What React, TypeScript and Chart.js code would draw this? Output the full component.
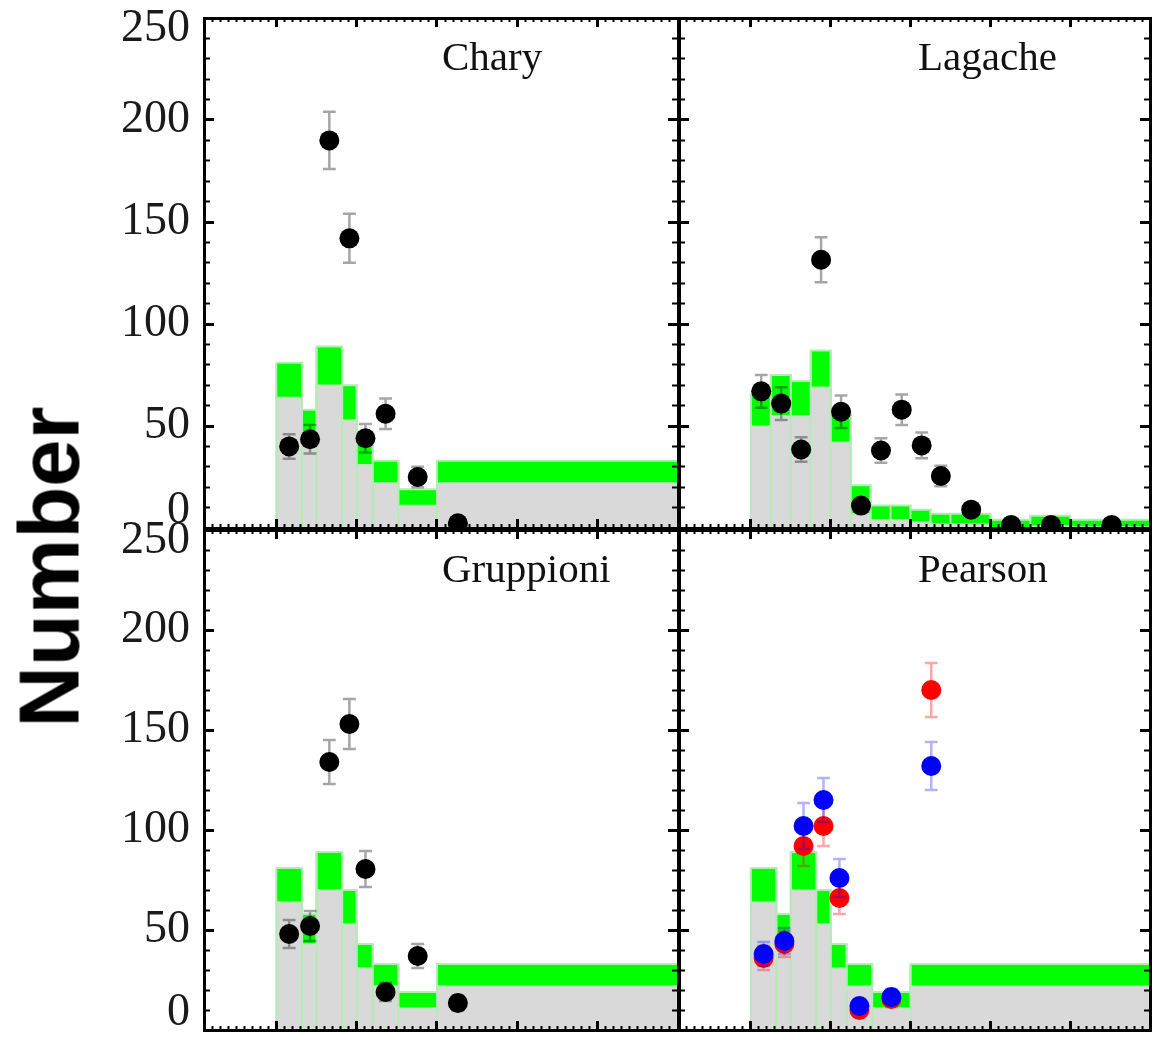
import React, { useEffect, useRef } from 'react';
import { Chart, registerables } from 'chart.js';

Chart.register(...registerables);

const W = 1160;
const H = 1040;

// axis ranges
const X_MIN = 0.05;
const X_MAX = 3.0;
const Y_MIN = 0;
const Y_MAX = 250;
const Y_MAJOR = 50;
const Y_MINOR = 10;
const X_MAJOR = 0.5;
const X_MINOR = 0.05;

// model band shared by Chary / Gruppioni / Pearson panels
const modelEdges = [0.5, 0.66, 0.75, 0.91, 1.0, 1.1, 1.26, 1.5, 3.0];
const modelUpper = [81, 58, 89, 70, 43, 33, 19, 33];
const modelLower = [64, 43, 70, 53, 31, 22, 11, 22];

// model band of the Lagache panel
const lagacheEdges = [0.5, 0.625, 0.75, 0.875, 1.0, 1.125, 1.25, 1.375, 1.5, 1.625, 1.75, 2.0, 2.25, 2.5, 3.0];
const lagacheUpper = [66, 75, 72, 87, 56, 21, 11, 11, 9, 7, 7, 4, 6, 4];
const lagacheLower = [50, 55, 55, 69, 42, 7, 4, 4, 3, 2, 2, 0, 1, 0.5];

// observed points
const obsX = [0.58, 0.71, 0.83, 0.955, 1.055, 1.18, 1.38, 1.63];
const charyN = [40, 43.5, 190, 142, 44, 56, 25, 2.3];
const charyErr = [6, 7, 14, 12, 7, 7.5, 5, 1.5];
const gruppioniN = [48, 52, 134, 153, 80.5, 19, 37, 13.5];
const gruppioniErr = [7, 7.5, 11, 12.5, 9, 4.5, 6, 3.7];
const pearsonRedN = [36, 43, 92, 102, 66, 10, 15.5, 170];
const pearsonRedErr = [6, 6.5, 10, 10, 8, 3, 4, 13.5];
const pearsonBlueN = [38, 44.5, 102, 115, 76, 12, 16.5, 132];
const pearsonBlueErr = [6, 6.5, 11.5, 11, 9.5, 3.5, 4, 12];

const lagacheX = [0.565, 0.69, 0.815, 0.94, 1.065, 1.19, 1.315, 1.445, 1.57, 1.69, 1.88, 2.13, 2.38, 2.76];
const lagacheN = [67, 61, 38.5, 131.5, 57, 11, 38, 58, 40.5, 25.5, 9, 1.5, 1.5, 1.5];
const lagacheErr = [8, 8, 6, 11, 8, 3.3, 6, 7.5, 6.3, 5, 3, 1.2, 1.2, 1.2];

const panelTitles = ['Chary', 'Lagache', 'Gruppioni', 'Pearson'];

// styles
const GREEN = '#00ff00';
const GREY = '#d9d9d9';
const EDGE_GREEN = '#b3ecb3';
const CAP = 0.04;
const SERIF = '"Liberation Serif", "Times New Roman", serif';

type Series = { xs: number[]; ys: number[]; errs: number[]; color: string; errColor: string };
type PanelSpec = {
  left: number; right: number; top: number; bottom: number; labels: boolean;
  edges: number[]; upper: number[]; lower: number[]; series: Series[];
};

const panels: PanelSpec[] = [
  { left: 204, right: 678, top: 18, bottom: 528, labels: true, edges: modelEdges, upper: modelUpper, lower: modelLower,
    series: [{ xs: obsX, ys: charyN, errs: charyErr, color: '#000000', errColor: 'rgba(0,0,0,0.35)' }] },
  { left: 679, right: 1152, top: 18, bottom: 528, labels: false, edges: lagacheEdges, upper: lagacheUpper, lower: lagacheLower,
    series: [{ xs: lagacheX, ys: lagacheN, errs: lagacheErr, color: '#000000', errColor: 'rgba(0,0,0,0.35)' }] },
  { left: 204, right: 678, top: 530, bottom: 1039, labels: true, edges: modelEdges, upper: modelUpper, lower: modelLower,
    series: [{ xs: obsX, ys: gruppioniN, errs: gruppioniErr, color: '#000000', errColor: 'rgba(0,0,0,0.35)' }] },
  { left: 679, right: 1152, top: 530, bottom: 1039, labels: false, edges: modelEdges, upper: modelUpper, lower: modelLower,
    series: [
      { xs: obsX, ys: pearsonRedN, errs: pearsonRedErr, color: '#ff0000', errColor: 'rgba(255,0,0,0.35)' },
      { xs: obsX, ys: pearsonBlueN, errs: pearsonBlueErr, color: '#0000ff', errColor: 'rgba(0,0,255,0.3)' },
    ] },
];

const titlePos = [
  { left: 442, top: 36 },
  { left: 918, top: 36 },
  { left: 442, top: 548 },
  { left: 918, top: 548 },
];

function zeroPad(s: any) {
  s.paddingLeft = 0; s.paddingRight = 0; s.paddingTop = 0; s.paddingBottom = 0;
}

function tickAxis(position: string, step: number, len: number, width: number, border: boolean) {
  const horizontal = position === 'top' || position === 'bottom';
  return {
    type: 'linear',
    position,
    display: true,
    min: horizontal ? X_MIN : Y_MIN,
    max: horizontal ? X_MAX : Y_MAX,
    weight: 0,
    ticks: { display: false, stepSize: step, autoSkip: false },
    grid: { drawOnChartArea: false, drawTicks: true, tickLength: -len, tickWidth: width, tickColor: '#000', z: 1 },
    border: { display: border, color: '#000', width: 3, z: 1 },
    afterFit: (s: any) => {
      if (horizontal) s.height = 0; else s.width = 0;
      zeroPad(s);
    },
  };
}

function buildConfig(p: PanelSpec): any {
  const hist = (vals: number[]) => p.edges.map((e, i) => ({ x: e, y: vals[Math.min(i, vals.length - 1)] }));
  const datasets: any[] = [];
  datasets.push({ data: hist(p.upper), stepped: 'before', fill: 'origin', backgroundColor: GREEN,
    borderColor: EDGE_GREEN, borderWidth: 2, pointRadius: 0, order: 10 });
  datasets.push({ data: hist(p.lower), stepped: 'before', fill: 'origin', backgroundColor: GREY,
    borderColor: EDGE_GREEN, borderWidth: 1.5, pointRadius: 0, order: 9 });
  const edgePts: any[] = [];
  p.edges.forEach((e, i) => {
    const h = Math.max(i > 0 ? p.upper[i - 1] : 0, i < p.upper.length ? p.upper[i] : 0);
    edgePts.push({ x: e, y: 0 }, { x: e, y: h }, { x: e, y: null });
  });
  datasets.push({ data: edgePts, borderColor: EDGE_GREEN, borderWidth: 2, pointRadius: 0, fill: false, spanGaps: false, order: 8 });
  p.series.forEach((s, k) => {
    const eb: any[] = [];
    s.xs.forEach((x, i) => {
      const y = s.ys[i];
      const e = s.errs[i];
      eb.push(
        { x, y: y - e }, { x, y: y + e }, { x, y: null },
        { x: x - CAP, y: y + e }, { x: x + CAP, y: y + e }, { x, y: null },
        { x: x - CAP, y: y - e }, { x: x + CAP, y: y - e }, { x, y: null },
      );
    });
    datasets.push({ data: eb, borderColor: s.errColor, borderWidth: 2.5, pointRadius: 0, fill: false,
      spanGaps: false, order: 7 - k * 2, clip: 0 });
    datasets.push({ data: s.xs.map((x, i) => ({ x, y: s.ys[i] })), showLine: false, pointRadius: 10,
      pointBackgroundColor: s.color, pointBorderColor: s.color, pointBorderWidth: 0, order: 6 - k * 2, clip: 0 });
  });

  const yMaj: any = tickAxis('left', Y_MAJOR, 10, 3, true);
  yMaj.weight = 1;
  yMaj.ticks = {
    display: p.labels,
    stepSize: Y_MAJOR,
    autoSkip: false,
    padding: 24,
    color: '#1a1a1a',
    callback: (v: number) => (v === Y_MIN ? [String(v), ''] : v === Y_MAX ? ['', String(v)] : String(v)),
    font: (ctx: any) => {
      const v = ctx && ctx.tick ? ctx.tick.value : undefined;
      return { family: SERIF, size: 46, lineHeight: v === Y_MIN ? '34px' : v === Y_MAX ? '22px' : 1.2 };
    },
  };
  yMaj.afterFit = (s: any) => { s.width = p.labels ? p.left : 0; zeroPad(s); };

  return {
    type: 'line',
    data: { datasets },
    options: {
      responsive: false,
      animation: false,
      devicePixelRatio: 1,
      events: [],
      layout: { padding: { left: p.labels ? 0 : p.left, right: W - p.right, top: p.top, bottom: H - p.bottom } },
      plugins: { legend: { display: false }, tooltip: { enabled: false }, title: { display: false } },
      elements: { line: { tension: 0 } },
      scales: {
        x: tickAxis('bottom', X_MINOR, 4, 2, false),
        xMaj: tickAxis('bottom', X_MAJOR, 9, 3, true),
        xTop: tickAxis('top', X_MINOR, 4, 2, false),
        xTopMaj: tickAxis('top', X_MAJOR, 9, 3, true),
        y: tickAxis('left', Y_MINOR, 6, 2, false),
        yMaj,
        yRight: tickAxis('right', Y_MINOR, 6, 2, false),
        yRightMaj: tickAxis('right', Y_MAJOR, 10, 3, true),
      },
    },
  };
}

function Panel({ spec }: { spec: PanelSpec }) {
  const ref = useRef<HTMLCanvasElement>(null);
  useEffect(() => {
    if (!ref.current) return;
    const chart = new Chart(ref.current, buildConfig(spec));
    return () => chart.destroy();
  }, [spec]);
  return (
    <canvas ref={ref} width={W} height={H}
      style={{ position: 'absolute', left: 0, top: 0, width: W, height: H }} />
  );
}

export default function App() {
  return (
    <div style={{ position: 'absolute', left: 0, top: 0, width: W, height: H, background: '#fff', overflow: 'hidden' }}>
      {panels.map((p, i) => <Panel key={i} spec={p} />)}
      {panelTitles.map((t, i) => (
        <div key={t} style={{ position: 'absolute', left: titlePos[i].left, top: titlePos[i].top, fontFamily: SERIF,
          fontSize: 41, lineHeight: '41px', color: '#111', whiteSpace: 'nowrap' }}>{t}</div>
      ))}
      <div style={{ position: 'absolute', left: 48.5, top: 567, transform: 'translate(-50%, -50%) rotate(-90deg)',
        fontFamily: '"Liberation Sans", Arial, sans-serif', fontWeight: 'bold', fontSize: 85, lineHeight: '85px',
        color: '#000', whiteSpace: 'nowrap' }}>Number</div>
    </div>
  );
}
